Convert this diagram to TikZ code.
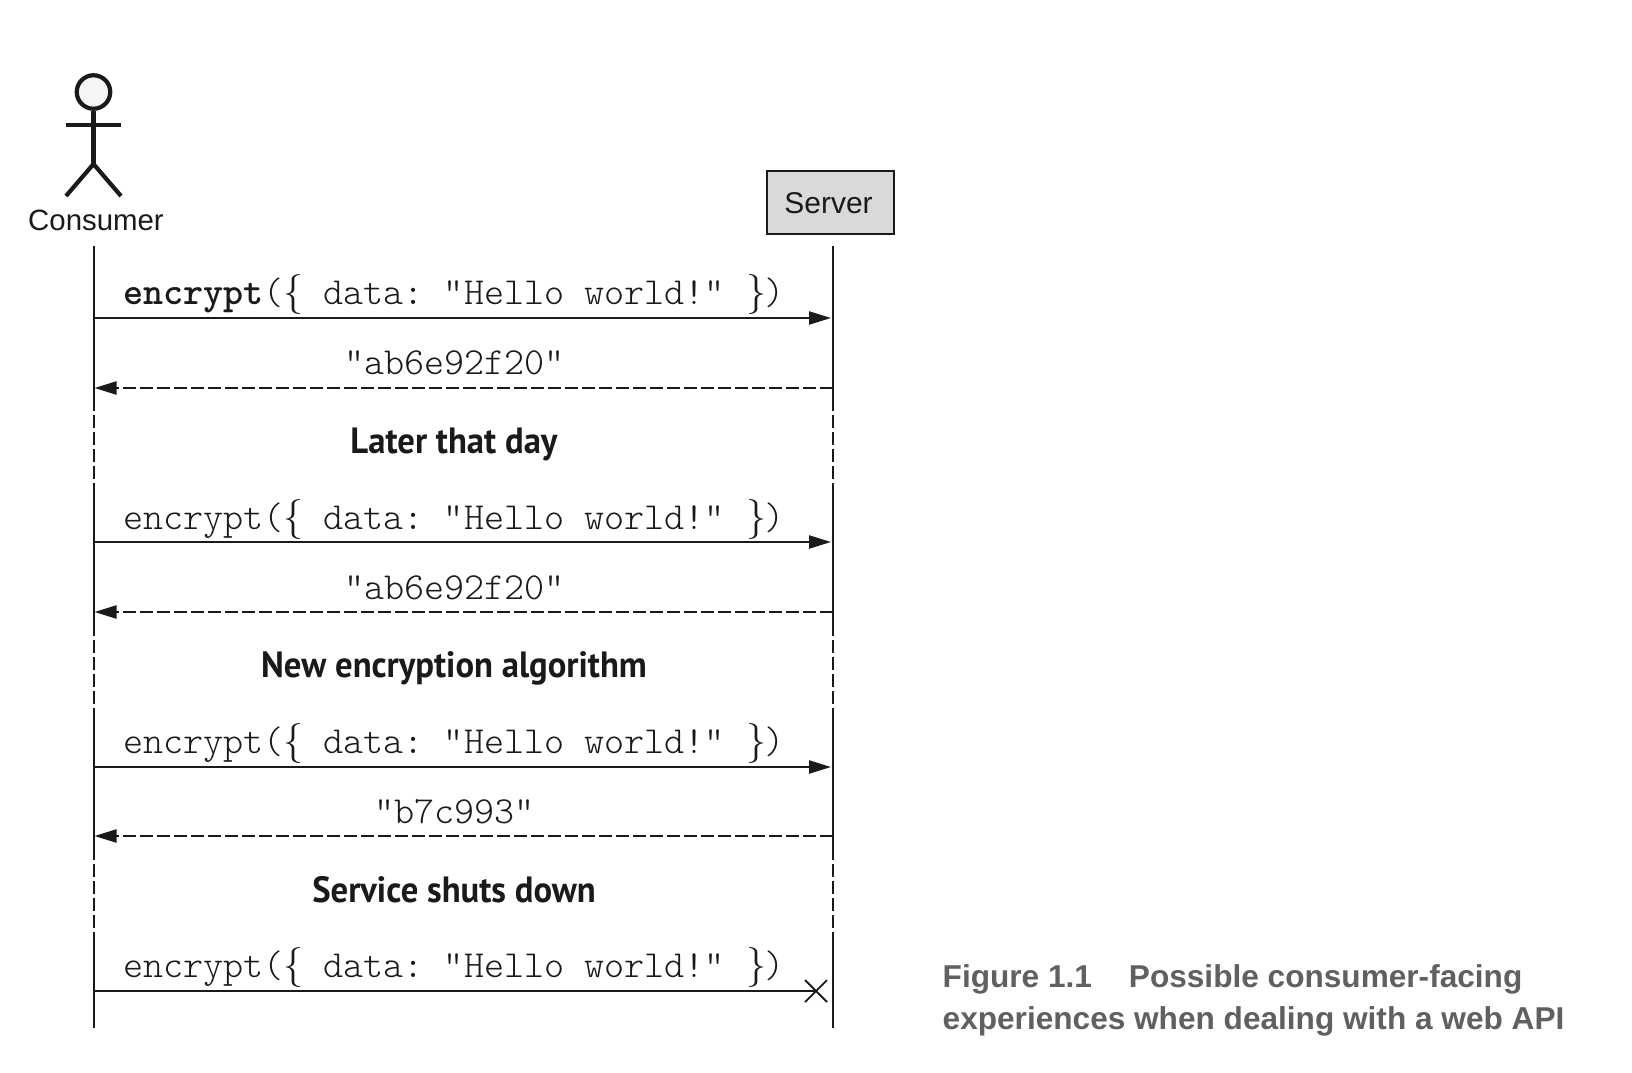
\documentclass[tikz,border=0pt]{standalone}
\usepackage{fontspec}
\usetikzlibrary{arrows.meta}
\setmainfont{Liberation Sans}
\setmonofont{Latin Modern Mono Light}
\newfontfamily\headfont[FakeStretch=0.95]{PT Sans Bold}
\newfontfamily\capfont{Liberation Sans Bold}
\newfontfamily\bracefont{Latin Modern Roman}
\definecolor{ink}{HTML}{1A1A1A}
\definecolor{capgray}{HTML}{606060}
\newcommand{\bopen}{\makebox[20pt]{\bracefont\fontsize{40}{40}\selectfont\{}}
\newcommand{\bclose}{\makebox[16pt]{\bracefont\fontsize{40}{40}\selectfont\}}}
\newcommand{\pplain}{(\bopen\ data: "Hello world!" \hspace{4pt}\bclose)}
\tikzset{
  x=1pt,y=-1pt,
  actorline/.style={draw=ink,line width=4.2pt},
  life/.style={draw=ink,line width=2.3pt},
  lifedash/.style={draw=ink,line width=2.3pt,dash pattern=on 13pt off 4pt,dash phase=13pt},
  call/.style={draw=ink,line width=2.3pt,-{Triangle[length=22pt,width=13pt]}},
  reply/.style={draw=ink,line width=2.3pt,dash pattern=on 13pt off 4pt,-{Triangle[length=22pt,width=13pt]}},
  sans/.style={inner sep=0pt,text=ink,font=\fontsize{29.4}{29.4}\selectfont},
  mono/.style={inner sep=0pt,text=ink,anchor=base west,font=\ttfamily\fontsize{38.2}{38.2}\selectfont},
  monoc/.style={inner sep=0pt,text=ink,anchor=base,font=\ttfamily\fontsize{38.2}{38.2}\selectfont},
  heading/.style={inner sep=0pt,text=ink,anchor=base,font=\headfont\fontsize{36.5}{36.5}\selectfont},
  caption/.style={inner sep=0pt,text=capgray,anchor=base west,font=\capfont\fontsize{31.6}{31.6}\selectfont},
}
\begin{document}
\begin{tikzpicture}
\useasboundingbox (0,0) rectangle (1632,1072);
% actor
\node[circle,draw=ink,line width=4.2pt,fill=black!4,minimum size=33.5pt,inner sep=0pt] (head) at (93.5,92) {};
\coordinate (hip) at (93.5,164);
\coordinate (armL) at (66,125);
\coordinate (armR) at (121,125);
\coordinate (footL) at (66,196);
\coordinate (footR) at (121,196);
\draw[actorline] (head.south) -- (hip);
\draw[actorline] (armL) -- (armR);
\draw[actorline] (footL) -- (hip) -- (footR);
\node[sans,anchor=base] (consumer) at (96,230) {Consumer};
% server
\node[draw=ink,line width=2pt,fill=black!15,minimum width=127pt,minimum height=63pt,inner sep=0pt] (server) at (830,202.5) {};
\node[sans,font=\fontsize{30}{30}\selectfont] (servername) at (828.5,203) {Server};
% lifeline way points
\foreach \n/\x in {c/94,s/833}{
  \coordinate (\n0) at (\x,246);
  \coordinate (\n1) at (\x,411);
  \coordinate (\n2) at (\x,484);
  \coordinate (\n3) at (\x,635.5);
  \coordinate (\n4) at (\x,708.5);
  \coordinate (\n5) at (\x,860);
  \coordinate (\n6) at (\x,933);
  \coordinate (\n7) at (\x,1028);
  \draw[life] (\n0) -- (\n1);
  \draw[lifedash] (\n1) -- (\n2);
  \draw[life] (\n2) -- (\n3);
  \draw[lifedash] (\n3) -- (\n4);
  \draw[life] (\n4) -- (\n5);
  \draw[lifedash] (\n5) -- (\n6);
  \draw[life] (\n6) -- (\n7);
}
% messages
\coordinate (a1) at (94,318);  \coordinate (b1) at (831,318);
\coordinate (a2) at (94.5,388);  \coordinate (b2) at (833,388);
\coordinate (a3) at (94,542);\coordinate (b3) at (831,542);
\coordinate (a4) at (94.5,612);  \coordinate (b4) at (833,612);
\coordinate (a5) at (94,767);  \coordinate (b5) at (831,767);
\coordinate (a6) at (94.5,836);\coordinate (b6) at (833,836);
\coordinate (a7) at (94,991);  \coordinate (b7) at (815,991);
\draw[call] (a1) -- (b1);
\draw[reply] (b2) -- (a2);
\draw[call] (a3) -- (b3);
\draw[reply] (b4) -- (a4);
\draw[call] (a5) -- (b5);
\draw[reply] (b6) -- (a6);
\draw[life] (a7) -- (b7);
\draw[draw=ink,line width=1.8pt] (805,980) -- (827,1002) (805,1002) -- (827,980);
% labels
\node[mono] (m1) at (123,304.5) {\textbf{encrypt}\pplain};
\node[monoc] (r1) at (454.5,374.5) {"ab6e92f20"};
\node[heading] (h1) at (454,453) {Later that day};
\node[mono] (m2) at (123,529) {encrypt\pplain};
\node[monoc] (r2) at (454.5,599) {"ab6e92f20"};
\node[heading] (h2) at (454,677.5) {New encryption algorithm};
\node[mono] (m3) at (123,753.5) {encrypt\pplain};
\node[monoc] (r3) at (454.5,823.5) {"b7c993"};
\node[heading] (h3) at (454,902) {Service shuts down};
\node[mono] (m4) at (123,977.5) {encrypt\pplain};
% caption
\node[caption] (cap1) at (942.5,987) {Figure 1.1\hspace{37pt}Possible consumer-facing};
\node[caption] (cap2) at (942.5,1029) {experiences when dealing with a web API};
\end{tikzpicture}
\end{document}
